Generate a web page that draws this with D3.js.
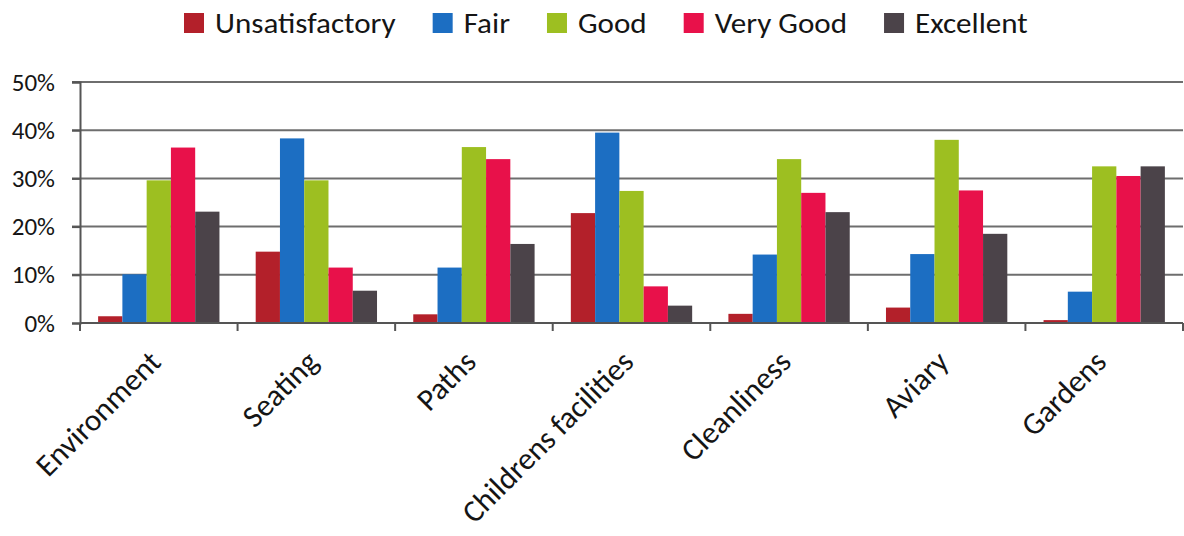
<!DOCTYPE html>
<html>
<head>
<meta charset="utf-8">
<script src="https://cdn.jsdelivr.net/npm/d3@7"></script>
<style>
  body { margin: 0; background: #fff; }
  svg text { font-family: Carlito, Lato, "Open Sans", sans-serif; fill: #151515; }
</style>
</head>
<body>
<svg width="1184" height="536"></svg>
<script>
// categories and series
var categories = ['Environment', 'Seating', 'Paths', 'Childrens facilities', 'Cleanliness', 'Aviary', 'Gardens'];
var seriesNames = ['Unsatisfactory', 'Fair', 'Good', 'Very Good', 'Excellent'];
var unsatisfactory = [1.4, 14.8, 1.8, 22.8, 1.9, 3.2, 0.6];
var fair           = [10.1, 38.3, 11.5, 39.5, 14.2, 14.3, 6.5];
var good           = [29.6, 29.6, 36.5, 27.4, 34.0, 38.0, 32.5];
var veryGood       = [36.4, 11.5, 34.0, 7.6, 27.0, 27.5, 30.5];
var excellent      = [23.1, 6.7, 16.4, 3.6, 23.0, 18.5, 32.5];
var yTicks = [0, 10, 20, 30, 40, 50];

var seriesValues = [unsatisfactory, fair, good, veryGood, excellent];
var colors = ['#b3202a', '#1c6ec2', '#9dbf21', '#e8114a', '#4b4349'];

var svg = d3.select('svg');
var pLeft = 80, pRight = 1183, pTop = 82, pBottom = 323;

var x0 = d3.scaleBand().domain(categories).range([pLeft, pRight]).paddingInner(0.23).paddingOuter(0.115);
var x1 = d3.scaleBand().domain(seriesNames).range([0, x0.bandwidth()]);
var y = d3.scaleLinear().domain([0, 50]).range([pBottom, pTop]);

// gridlines
svg.append('g').selectAll('line').data(yTicks.slice(1)).enter().append('line')
   .attr('x1', pLeft - 8).attr('x2', pRight)
   .attr('y1', function(d){ return y(d); }).attr('y2', function(d){ return y(d); })
   .attr('stroke', '#6e6e6e').attr('stroke-width', 2);

// bars
var rows = categories.map(function(c, i){
	return seriesNames.map(function(s, j){ return {cat: c, series: s, v: seriesValues[j][i], color: colors[j]}; });
});
svg.append('g').selectAll('g').data(rows).enter().append('g')
   .attr('transform', function(d){ return 'translate(' + x0(d[0].cat) + ',0)'; })
   .selectAll('rect').data(function(d){ return d; }).enter().append('rect')
   .attr('x', function(d){ return x1(d.series); })
   .attr('width', x1.bandwidth())
   .attr('y', function(d){ return y(d.v); })
   .attr('height', function(d){ return y(0) - y(d.v); })
   .attr('fill', function(d){ return d.color; });

// y axis
var yAxis = svg.append('g').attr('transform', 'translate(' + pLeft + ',0)')
   .call(d3.axisLeft(y).tickValues(yTicks).tickFormat(function(d){ return d + '%'; }).tickSize(8).tickPadding(17));
yAxis.select('.domain').attr('stroke', '#555').attr('stroke-width', 2);
yAxis.selectAll('.tick line').attr('stroke', '#555').attr('stroke-width', 2);
yAxis.selectAll('text').style('font-size', '25px').attr('fill', '#151515');

// x axis baseline + ticks between groups
var xAxis = svg.append('g').attr('transform', 'translate(0,' + pBottom + ')');
xAxis.append('line').attr('x1', pLeft).attr('x2', pRight).attr('stroke', '#555').attr('stroke-width', 2);
var step = x0.step();
xAxis.selectAll('.sep').data(d3.range(categories.length + 1)).enter().append('line')
   .attr('x1', function(i){ return pLeft + i * step; }).attr('x2', function(i){ return pLeft + i * step; })
   .attr('y1', 0).attr('y2', 8).attr('stroke', '#555').attr('stroke-width', 2);

xAxis.selectAll('.lbl').data(categories).enter().append('text')
   .attr('transform', function(d){
   	var cx = x0(d) + x0.bandwidth() / 2 - 12;
   	return 'translate(' + cx + ',' + 25 + ') rotate(-45)';
   })
   .attr('text-anchor', 'end')
   .attr('dy', '0.72em')
   .style('font-size', '31px')
   .text(function(d){ return d; });

// legend
var legend = svg.append('g').attr('transform', 'translate(184,0)');
var lx = 0;
seriesNames.forEach(function(s, j){
	var item = legend.append('g').attr('transform', 'translate(' + lx + ',0)');
	item.append('rect').attr('x', 0).attr('y', 13).attr('width', 20).attr('height', 20).attr('fill', colors[j]);
	var t = item.append('text').attr('x', 31).attr('y', 33).style('font-size', '28px').text(s);
	var w = t.node().getComputedTextLength() * 1.11;
	t.attr('textLength', w).attr('lengthAdjust', 'spacingAndGlyphs');
	lx += 31 + w + 37;
});
</script>
</body>
</html>
